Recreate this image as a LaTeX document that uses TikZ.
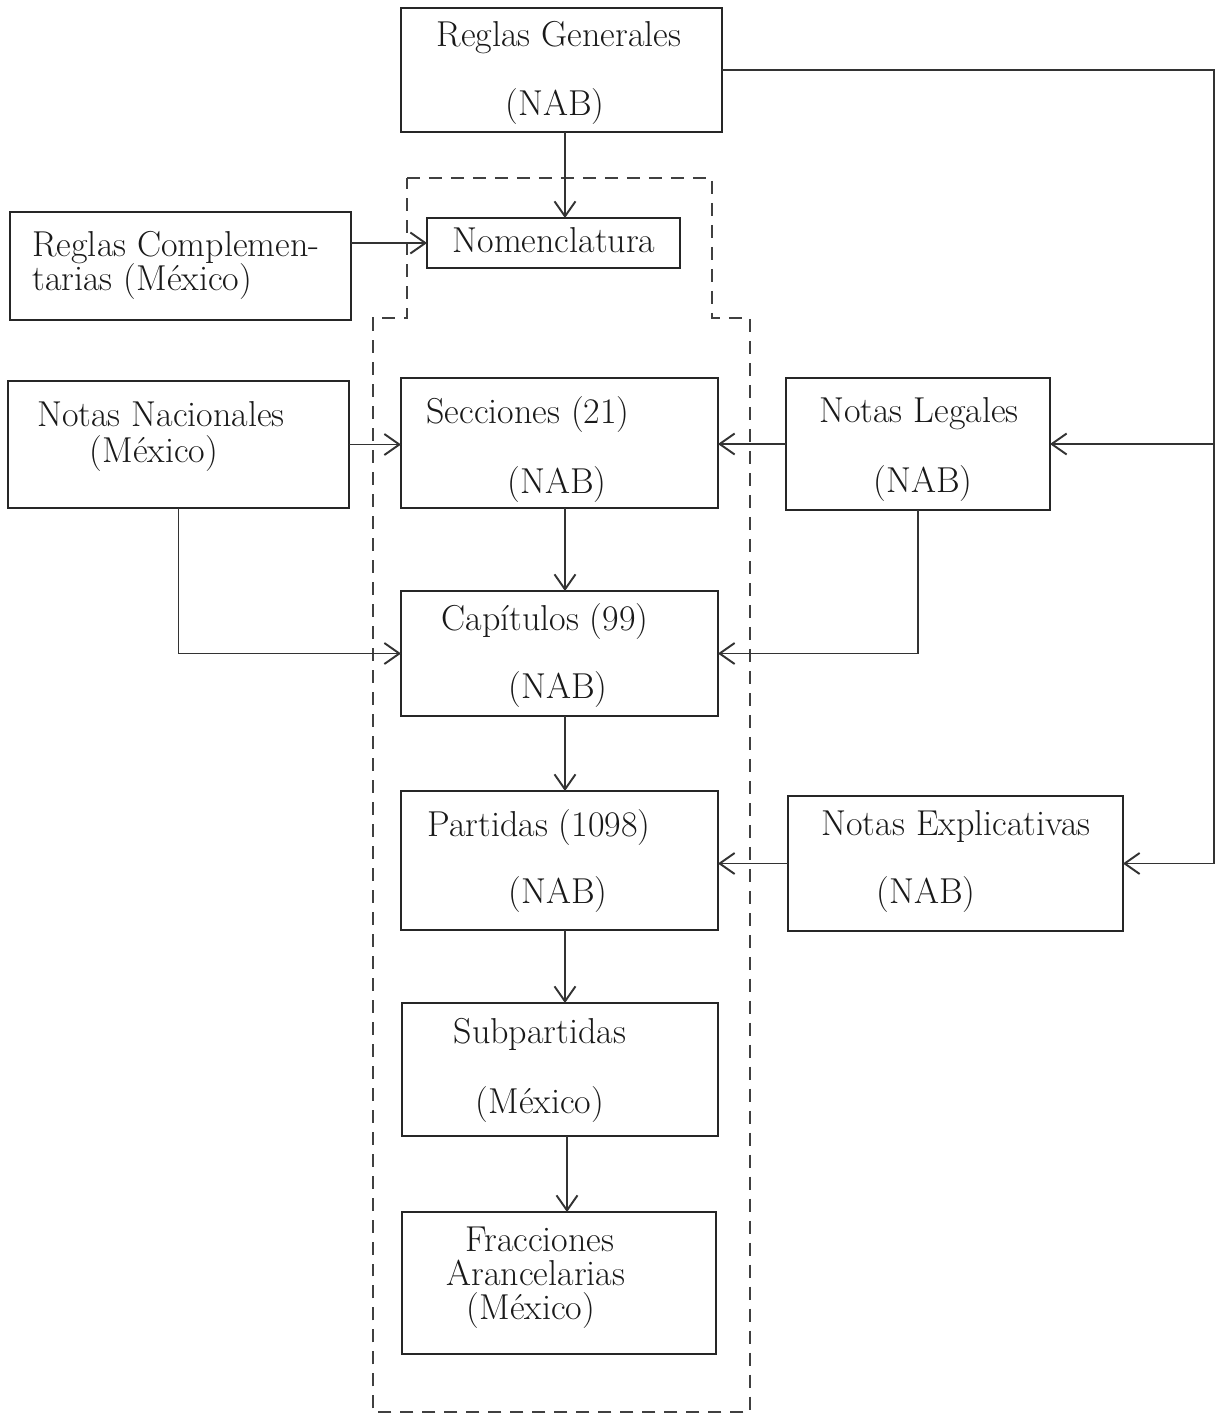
\documentclass[tikz,border=0pt]{standalone}
\usepackage{fontspec}
\usetikzlibrary{arrows.meta}
\begin{document}
\begin{tikzpicture}[x=0.02cm,y=-0.02cm,
  box/.style={draw=black!85, line width=1.3pt, inner sep=0pt, outer sep=0pt, rectangle},
  txt/.style={font=\fontsize{20.5}{24}\selectfont, inner sep=0pt, anchor=mid, text=black!90, yshift=-0.13cm},
  arr/.style={draw=black!80, line width=1.1pt, -{Straight Barb[length=0.3cm,width=0.42cm,line width=1.1pt]}},
  ln/.style={draw=black!80, line width=1.1pt},
  dashbox/.style={draw=black!75, line width=1.4pt, dash pattern=on 0.26cm off 0.18cm}]
\useasboundingbox (0,0) rectangle (1217,1417);

% boxes
\node[box, minimum width=6.42cm, minimum height=2.48cm] (rg) at (561.5,70) {};
\node[box, minimum width=5.06cm, minimum height=1.00cm] (nom) at (553.5,243) {};
\node[box, minimum width=6.82cm, minimum height=2.16cm] (rc) at (180.5,266) {};
\node[box, minimum width=6.82cm, minimum height=2.54cm] (nn) at (178.5,444.5) {};
\node[box, minimum width=6.34cm, minimum height=2.60cm] (sec) at (559.5,443) {};
\node[box, minimum width=5.28cm, minimum height=2.64cm] (nl) at (918,444) {};
\node[box, minimum width=6.34cm, minimum height=2.50cm] (cap) at (559.5,653.5) {};
\node[box, minimum width=6.34cm, minimum height=2.78cm] (par) at (559.5,860.5) {};
\node[box, minimum width=6.70cm, minimum height=2.70cm] (ne) at (955.5,863.5) {};
\node[box, minimum width=6.32cm, minimum height=2.66cm] (sub) at (560,1069.5) {};
\node[box, minimum width=6.28cm, minimum height=2.84cm] (fra) at (559,1283) {};

% texts
\node[txt] (rg1) at (559,36) {Reglas Generales};
\node[txt] (rg2) at (555,105) {(NAB)};
\node[txt] (nomt) at (554,242) {Nomenclatura};
\node[txt, anchor=mid west] (rc1) at (32,246) {Reglas Complemen-};
\node[txt, anchor=mid west] (rc2) at (32,280) {tarias (México)};
\node[txt] (nn1) at (161,416) {Notas Nacionales};
\node[txt] (nn2) at (154,452) {(México)};
\node[txt] (sec1) at (528,413) {Secciones (21)};
\node[txt] (sec2) at (557,483) {(NAB)};
\node[txt] (nl1) at (919,412) {Notas Legales};
\node[txt] (nl2) at (923,482) {(NAB)};
\node[txt] (cap1) at (545,620) {Capítulos (99)};
\node[txt] (cap2) at (558,688) {(NAB)};
\node[txt] (par1) at (539,826) {Partidas (1098)};
\node[txt] (par2) at (558,893) {(NAB)};
\node[txt] (ne1) at (956,825) {Notas Explicativas};
\node[txt] (ne2) at (926,893) {(NAB)};
\node[txt] (sub1) at (540,1033) {Subpartidas};
\node[txt] (sub2) at (540,1103) {(México)};
\node[txt] (fra1) at (540,1241) {Fracciones};
\node[txt] (fra2) at (536,1275) {Arancelarias};
\node[txt] (fra3) at (531,1309) {(México)};

% dashed outline
\draw[dashbox] (407,178) -- (712,178) -- (712,318) -- (750,318) -- (750,1412)
  -- (373,1412) -- (373,318) -- (407,318) -- cycle;

% helper coordinates
\coordinate (x565) at (565,0);
\coordinate (x567) at (567,0);
\coordinate (xR) at (1214,0);

% connectors
\draw[arr] (x565 |- rg.south) -- (x565 |- nom.north);
\draw[arr] (nom.west -| rc.east) -- (nom.west);
\draw[arr] (nn.east) -- (nn.east -| sec.west);
\draw[arr] (nn.south) |- (cap.west);
\draw[arr] (x565 |- sec.south) -- (x565 |- cap.north);
\draw[arr] (nl.west) -- (nl.west -| sec.east);
\draw[arr] (nl.south) |- (cap.east);
\draw[arr] (x565 |- cap.south) -- (x565 |- par.north);
\draw[arr] (ne.west) -- (ne.west -| par.east);
\draw[arr] (x565 |- par.south) -- (x565 |- sub.north);
\draw[arr] (x567 |- sub.south) -- (x567 |- fra.north);
\draw[arr] (rg.east) -| (xR |- ne.east) -- (ne.east);
\draw[arr] (xR |- nl.east) -- (nl.east);
\end{tikzpicture}
\end{document}
